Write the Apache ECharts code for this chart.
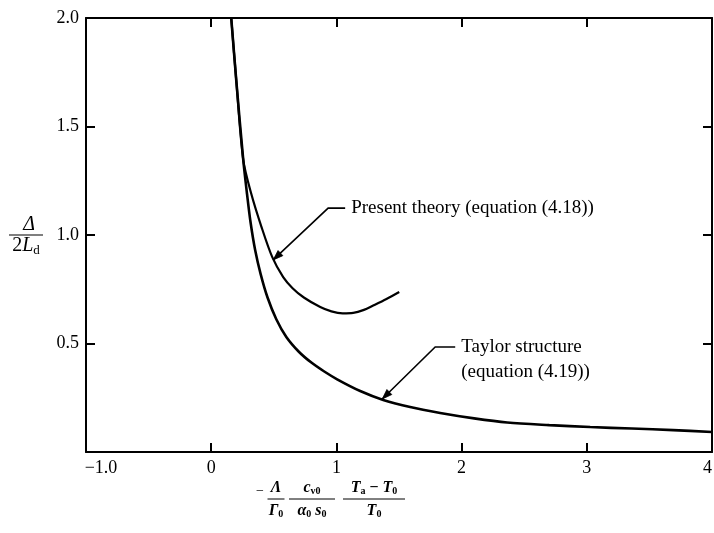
<!DOCTYPE html>
<html>
<head>
<meta charset="utf-8">
<script src="https://cdn.jsdelivr.net/npm/echarts@6/dist/echarts.min.js"></script>
<style>
  html, body { margin: 0; padding: 0; background: #fff; }
  #chart { width: 714px; height: 533px; }
</style>
</head>
<body>
<div id="chart"></div>
<script>
// Axis ticks
const xTickValues = [-1, 0, 1, 2, 3, 4];
const xTickLabels = ['\u22121.0', '0', '1', '2', '3', '4'];
const yTickValues = [0, 0.5, 1.0, 1.5, 2.0];
const yTickLabels = ['', '0.5', '1.0', '1.5', '2.0'];

// Taylor structure, equation (4.19)
const taylorX = [0.160, 0.200, 0.256, 0.286, 0.314, 0.351, 0.395, 0.450, 0.520, 0.600, 0.700, 0.800, 0.900,
                 1.006, 1.190, 1.374, 1.589, 1.829, 2.100, 2.364, 2.700, 3.027, 3.360, 3.690, 4.000];
const taylorY = [2.000, 1.714, 1.346, 1.190, 1.060, 0.931, 0.820, 0.712, 0.612, 0.530, 0.462, 0.412, 0.372,
                 0.335, 0.281, 0.240, 0.207, 0.180, 0.155, 0.136, 0.124, 0.115, 0.108, 0.101, 0.092];

// Present theory, equation (4.18)
const presentX = [0.160, 0.200, 0.256, 0.320, 0.400, 0.487, 0.575, 0.650, 0.740, 0.871, 0.960, 1.050, 1.134, 1.220, 1.294, 1.400, 1.502];
const presentY = [2.000, 1.714, 1.346, 1.190, 1.040, 0.899, 0.806, 0.755, 0.712, 0.668, 0.648, 0.639, 0.641, 0.655, 0.675, 0.705, 0.737];

// Callouts (data units): arrow tip on the curve, elbow, end of the short leader
const callouts = [
  { lines: ['Present theory (equation (4.18))'], tip: [0.495, 0.885], elbow: [0.934, 1.124], end: [1.07, 1.124] },
  { lines: ['Taylor structure', '(equation (4.19))'], tip: [1.366, 0.244], elbow: [1.789, 0.484], end: [1.949, 0.484] }
];

const zip = (xs, ys) => xs.map((x, i) => [x, ys[i]]);
const SERIF = '"Liberation Serif", "DejaVu Serif", serif';
const INK = '#000';

const chart = echarts.init(document.getElementById('chart'), null, { renderer: 'canvas' });

const frameAxis = {
  axisLine: { show: true, onZero: false, lineStyle: { color: INK, width: 2 } },
  axisTick: { show: true, inside: true, length: 9, lineStyle: { color: INK, width: 2 } },
  splitLine: { show: false }
};

chart.setOption({
  animation: false,
  backgroundColor: '#fff',
  grid: { left: 86, right: 2, top: 18, bottom: 81, containLabel: false, outerBoundsMode: 'none' },
  xAxis: [
    Object.assign({}, frameAxis, {
      type: 'value', min: -1, max: 4, interval: 1, position: 'bottom',
      axisLabel: {
        show: true, margin: 7, color: INK, fontFamily: SERIF, fontSize: 18,
        hideOverlap: false, alignMaxLabel: 'right',
        formatter: v => {
          const i = xTickValues.findIndex(t => Math.abs(t - v) < 1e-9);
          return i === 0 ? '{lo|' + xTickLabels[i] + '}' : (i >= 0 ? xTickLabels[i] : '');
        },
        rich: { lo: { padding: [0, 0, 0, 30], fontFamily: SERIF, fontSize: 18, color: INK } }
      }
    }),
    Object.assign({}, frameAxis, {
      type: 'value', min: -1, max: 4, interval: 1, position: 'top',
      axisLabel: { show: false }
    })
  ],
  yAxis: [
    Object.assign({}, frameAxis, {
      type: 'value', min: 0, max: 2, interval: 0.5, position: 'left',
      axisLabel: {
        show: true, margin: 7, color: INK, fontFamily: SERIF, fontSize: 18,
        formatter: v => {
          const i = yTickValues.findIndex(t => Math.abs(t - v) < 1e-9);
          return i >= 0 ? yTickLabels[i] : '';
        }
      }
    }),
    Object.assign({}, frameAxis, {
      type: 'value', min: 0, max: 2, interval: 0.5, position: 'right',
      axisLabel: { show: false }
    })
  ],
  series: [
    {
      name: 'Taylor structure', type: 'line', xAxisIndex: 0, yAxisIndex: 0,
      data: zip(taylorX, taylorY), smooth: 0.3, showSymbol: false,
      lineStyle: { color: INK, width: 2.6 }, z: 3
    },
    {
      name: 'Present theory', type: 'line', xAxisIndex: 0, yAxisIndex: 0,
      data: zip(presentX, presentY), smooth: 0.3, showSymbol: false,
      lineStyle: { color: INK, width: 2.2 }, z: 3
    }
  ]
});

// Callout leaders, arrowheads and texts, placed from data coordinates
function px(p) { return chart.convertToPixel({ gridIndex: 0 }, p); }
const graphics = [];
callouts.forEach(c => {
  const t = px(c.tip), e = px(c.elbow), n = px(c.end);
  graphics.push({
    type: 'polyline', shape: { points: [t, e, n] },
    style: { stroke: INK, lineWidth: 1.6, fill: null }, z: 10
  });
  const dx = e[0] - t[0], dy = e[1] - t[1], len = Math.hypot(dx, dy);
  const ux = dx / len, uy = dy / len, L = 10, W = 3.5;
  const bx = t[0] + ux * L, by = t[1] + uy * L;
  graphics.push({
    type: 'polygon',
    shape: { points: [t, [bx - uy * W, by + ux * W], [bx + uy * W, by - ux * W]] },
    style: { fill: INK, stroke: INK, lineWidth: 0.8 }, z: 10
  });
  c.lines.forEach((s, k) => {
    graphics.push({
      type: 'text', x: n[0] + 6, y: n[1] + k * 25,
      style: { text: s, fill: INK, font: '19px ' + SERIF, textVerticalAlign: 'middle', textAlign: 'left' },
      z: 10
    });
  });
});

// Vertical axis title: Δ / 2L_d
graphics.push(
  { type: 'text', x: 29, y: 225, style: { text: 'Δ', fill: INK, font: 'italic 20px ' + SERIF, textAlign: 'center', textVerticalAlign: 'middle' } },
  { type: 'line', shape: { x1: 9, y1: 235, x2: 43, y2: 235 }, style: { stroke: INK, lineWidth: 1.2 } },
  { type: 'text', x: 26, y: 246, style: {
      text: '{n|2}{l|L}{s|d}', textAlign: 'center', textVerticalAlign: 'middle',
      rich: {
        n: { font: '20px ' + SERIF, fill: INK },
        l: { font: 'italic 20px ' + SERIF, fill: INK },
        s: { font: '13px ' + SERIF, fill: INK, padding: [9, 0, 0, 0] }
      } } }
);

// Horizontal axis title: −(Λ/Γ0)(c_v0/(α0 s0))((Ta − T0)/T0)
const richX = {
  i: { font: 'italic bold 16px ' + SERIF, fill: INK },
  r: { font: 'bold 16px ' + SERIF, fill: INK },
  s: { font: 'bold 10px ' + SERIF, fill: INK, padding: [7, 0, 0, 0] }
};
function frac(cx, w, num, den) {
  return [
    { type: 'text', x: cx, y: 488, style: { text: num, textAlign: 'center', textVerticalAlign: 'middle', rich: richX } },
    { type: 'line', shape: { x1: cx - w / 2, y1: 499, x2: cx + w / 2, y2: 499 }, style: { stroke: INK, lineWidth: 1 } },
    { type: 'text', x: cx, y: 511, style: { text: den, textAlign: 'center', textVerticalAlign: 'middle', rich: richX } }
  ];
}
graphics.push({ type: 'text', x: 260, y: 491, style: { text: '\u2212', font: '14px ' + SERIF, fill: INK, textAlign: 'center', textVerticalAlign: 'middle' } });
graphics.push(...frac(276, 17, '{i|Λ}', '{i|Γ}{s|0}'));
graphics.push(...frac(312, 46, '{i|c}{s|v0}', '{i|α}{s|0}{r| }{i|s}{s|0}'));
graphics.push(...frac(374, 62, '{i|T}{s|a}{r| \u2212 }{i|T}{s|0}', '{i|T}{s|0}'));

chart.setOption({ graphic: graphics });
</script>
</body>
</html>
